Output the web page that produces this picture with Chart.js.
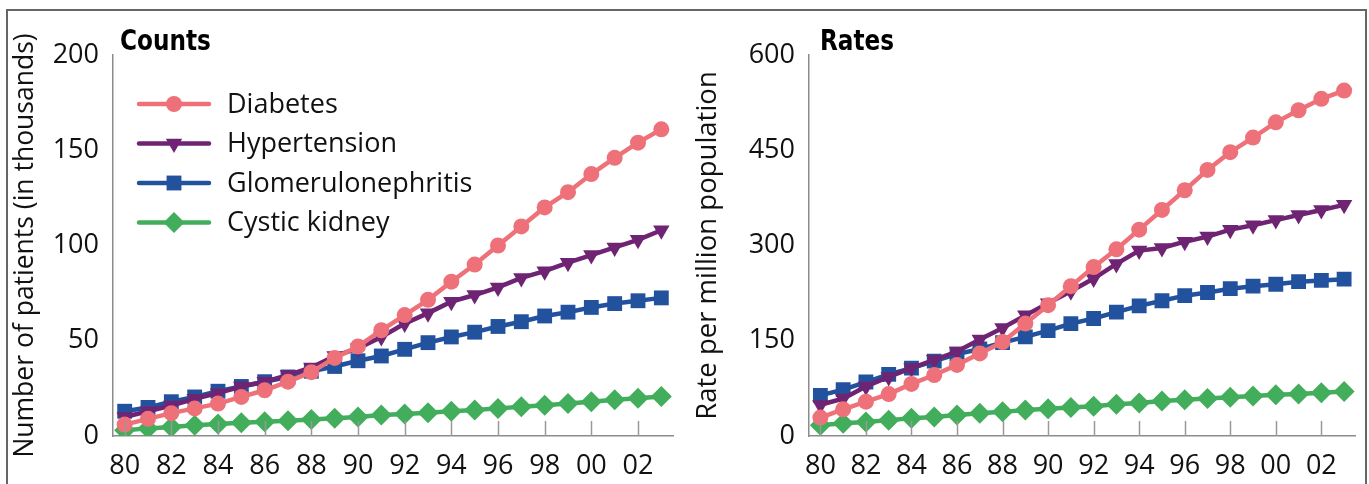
<!DOCTYPE html>
<html>
<head>
<meta charset="utf-8">
<script src="https://cdn.jsdelivr.net/npm/chart.js@4.4.1/dist/chart.umd.min.js"></script>
<style>
  html, body { margin: 0; padding: 0; background: #fff; }
  body { width: 1369px; height: 484px; overflow: hidden; position: relative; }
  .frame { position: absolute; left: 6px; top: 9px; width: 1357px; height: 500px; border: 2px solid #666; }
  .box { position: absolute; top: 11px; }
  #countsChart { left: 8px; }
  #ratesChart { left: 690px; }
</style>
</head>
<body>
<div class="frame"></div>
<canvas id="countsChart" class="box" width="682" height="473"></canvas>
<canvas id="ratesChart" class="box" width="676" height="473"></canvas>

<script>
// Data (1980 - 2003)
const years = [1980, 1981, 1982, 1983, 1984, 1985, 1986, 1987, 1988, 1989, 1990, 1991,
               1992, 1993, 1994, 1995, 1996, 1997, 1998, 1999, 2000, 2001, 2002, 2003];
const tickYears = [1980, 1982, 1984, 1986, 1988, 1990, 1992, 1994, 1996, 1998, 2000, 2002];
const xTickLabels = ['80', '82', '84', '86', '88', '90', '92', '94', '96', '98', '00', '02'];
const seriesNames = ['Diabetes', 'Hypertension', 'Glomerulonephritis', 'Cystic kidney'];

// Counts (in thousands)
const countsDiabetes = [6, 9, 12, 14.5, 17, 20.5, 24, 28.5, 33.5, 41, 47, 55.5,
                        63.5, 71.5, 81, 90, 100, 110, 120, 128, 137.5, 146, 154, 161];
const countsHypertension = [10, 13, 16, 19.5, 22.5, 26, 28.5, 32, 36, 42, 46, 52,
                            59, 64.5, 70.5, 74, 78, 83, 86.5, 91, 95, 99, 103, 108];
const countsGlomerulo = [13, 15, 18, 20.5, 23.5, 26, 28.5, 31, 34, 36.5, 39.5, 42,
                         45.5, 49, 52, 54.5, 57.5, 60, 63, 65, 67.5, 69.5, 71, 72.5];
const countsCystic = [3, 4, 4.7, 5.6, 6.3, 7, 7.5, 8, 8.7, 9.3, 10, 11,
                      11.5, 12.2, 13, 13.6, 14.5, 15.3, 16.2, 17, 18, 19, 19.8, 20.7];

// Rates (per million population)
const ratesDiabetes = [29, 42, 54, 66, 82, 96, 112, 130, 148, 177, 206, 236,
                       266, 294, 325, 356, 387, 419, 447, 470, 494, 513, 531, 544];
const ratesHypertension = [49, 59, 78, 93, 107, 120, 133, 152, 170, 190, 209, 228,
                           248, 271, 292, 296, 306, 314, 325, 332, 340, 348, 356, 364];
const ratesGlomerulo = [64, 73, 85, 97, 107, 118, 129, 137, 147, 156, 166, 177,
                        185, 195, 205, 213, 221, 226, 232, 236, 239, 243, 245, 247];
const ratesCystic = [17, 20, 22, 25, 28, 30, 33, 36, 38, 41, 43, 45,
                     47, 50, 52, 55, 57, 59, 61, 63, 65, 66, 68, 70];

// Styles
const seriesColors = ['#ee7179', '#6f2473', '#22519e', '#42ad5b'];
const seriesMarkers = [
  { pointStyle: 'circle', pointRadius: 8, pointRotation: 0 },
  { pointStyle: 'triangle', pointRadius: 9.5, pointRotation: 180 },
  { pointStyle: 'rect', pointRadius: 10.5, pointRotation: 0 },
  { pointStyle: 'rectRot', pointRadius: 10.5, pointRotation: 0 }
];
const textFont = "'Open Sans', 'DejaVu Sans', sans-serif";
const titleFont = "'DejaVu Sans', sans-serif";

function makeDatasets(seriesValues) {
  return seriesValues.map((vals, i) => ({
    label: seriesNames[i],
    data: years.map((yr, j) => ({ x: yr, y: vals[j] })),
    borderColor: seriesColors[i],
    backgroundColor: seriesColors[i],
    borderWidth: 4.5,
    pointBorderWidth: 0,
    pointStyle: seriesMarkers[i].pointStyle,
    pointRadius: seriesMarkers[i].pointRadius,
    pointRotation: seriesMarkers[i].pointRotation,
    tension: 0
  }));
}

// small tick marks standing up from the x axis
const tickMarks = {
  id: 'tickMarks',
  afterDatasetsDraw(chart) {
    const xs = chart.scales.x;
    const ctx = chart.ctx;
    const bottom = chart.chartArea.bottom;
    ctx.save();
    ctx.strokeStyle = '#999';
    ctx.lineWidth = 1.5;
    xs.ticks.forEach(t => {
      const px = Math.round(xs.getPixelForValue(t.value)) + 0.5;
      ctx.beginPath();
      ctx.moveTo(px, bottom);
      ctx.lineTo(px, bottom - 15);
      ctx.stroke();
    });
    ctx.restore();
  }
};

// panel title (Counts / Rates) just right of the y axis, squeezed to look condensed
const panelTitle = {
  id: 'panelTitle',
  afterDraw(chart, args, opts) {
    const ctx = chart.ctx;
    ctx.save();
    ctx.translate(chart.chartArea.left + opts.dx, chart.chartArea.top - 5);
    ctx.scale(0.8, 1);
    ctx.font = 'bold 29px ' + titleFont;
    ctx.fillStyle = '#000';
    ctx.textBaseline = 'alphabetic';
    ctx.fillText(opts.text, 0, 0);
    ctx.restore();
  }
};

// legend drawn inside the plot area
const innerLegend = {
  id: 'innerLegend',
  afterDraw(chart, args, opts) {
    if (!opts.show) return;
    const ctx = chart.ctx;
    const left = chart.chartArea.left;
    const top = chart.chartArea.top;
    ctx.save();
    chart.data.datasets.forEach((ds, i) => {
      const y = top + 49 + i * 39.5;
      ctx.strokeStyle = ds.borderColor;
      ctx.lineWidth = 4.5;
      ctx.lineCap = 'round';
      ctx.beginPath();
      ctx.moveTo(left + 26, y);
      ctx.lineTo(left + 96, y);
      ctx.stroke();
      ctx.fillStyle = ds.backgroundColor;
      Chart.helpers.drawPoint(ctx, {
        pointStyle: ds.pointStyle,
        radius: ds.pointRadius,
        rotation: ds.pointRotation,
        borderWidth: 0
      }, left + 61, y);
      ctx.fillStyle = '#111';
      ctx.font = '27px ' + textFont;
      ctx.textBaseline = 'middle';
      ctx.fillText(ds.label, left + 114, y + 1);
    });
    ctx.restore();
  }
};

function makeChart(canvasId, cfg) {
  return new Chart(document.getElementById(canvasId), {
    type: 'line',
    data: { datasets: makeDatasets(cfg.series) },
    options: {
      responsive: false,
      animation: false,
      events: [],
      layout: { padding: { top: 44, right: cfg.rightPad, left: 0, bottom: 0 } },
      plugins: {
        legend: { display: false },
        tooltip: { enabled: false },
        panelTitle: { text: cfg.title, dx: cfg.titleDx },
        innerLegend: { show: cfg.legend }
      },
      scales: {
        x: {
          type: 'linear',
          min: 1979.5,
          max: 2003.5,
          afterBuildTicks: s => { s.ticks = tickYears.map(v => ({ value: v })); },
          afterFit: s => { s.height = 48; },
          grid: { drawOnChartArea: false, drawTicks: false },
          border: { color: '#8c8c8c', width: 1.5 },
          ticks: {
            autoSkip: false,
            maxRotation: 0,
            padding: 14,
            color: '#111',
            font: { family: textFont, size: 27 },
            callback: (v, i) => xTickLabels[i]
          }
        },
        y: {
          min: 0,
          max: cfg.yMax,
          afterFit: s => { s.width = cfg.yWidth; },
          grid: { drawOnChartArea: false, drawTicks: false },
          border: { color: '#8c8c8c', width: 1.5 },
          ticks: {
            stepSize: cfg.yStep,
            padding: 14,
            color: '#111',
            font: { family: textFont, size: 27 }
          },
          title: {
            display: true,
            text: cfg.yTitle,
            color: '#111',
            font: { family: textFont, size: cfg.yTitleSize },
            padding: { top: 2, bottom: 0 }
          }
        }
      }
    },
    plugins: [tickMarks, panelTitle, innerLegend]
  });
}

makeChart('countsChart', {
  series: [countsDiabetes, countsHypertension, countsGlomerulo, countsCystic],
  title: 'Counts', titleDx: 7, legend: true,
  yTitle: 'Number of patients (in thousands)', yTitleSize: 26.5,
  yMax: 200, yStep: 50, yWidth: 105, rightPad: 17
});

makeChart('ratesChart', {
  series: [ratesDiabetes, ratesHypertension, ratesGlomerulo, ratesCystic],
  title: 'Rates', titleDx: 11, legend: false,
  yTitle: 'Rate per million population', yTitleSize: 27.5,
  yMax: 600, yStep: 150, yWidth: 119, rightPad: 0
});
</script>
</body>
</html>
